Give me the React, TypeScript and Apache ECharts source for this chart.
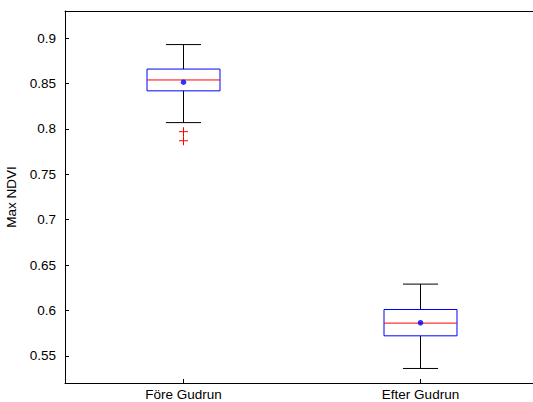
import React, { useEffect, useRef } from "react";
import * as echarts from "echarts";

const categories = ["Före Gudrun", "Efter Gudrun"];
const lowerWhisker = [0.807, 0.536];
const q1 = [0.842, 0.572];
const median = [0.854, 0.586];
const q3 = [0.866, 0.601];
const upperWhisker = [0.893, 0.629];
const means = [0.8515, 0.5864];
const outliers: [number, number][] = [
  [0, 0.797],
  [0, 0.787],
];
const yTicks = [0.55, 0.6, 0.65, 0.7, 0.75, 0.8, 0.85, 0.9];

const FONT = "'Liberation Sans', Arial, Helvetica, sans-serif";
const FS = 13.5;

export default function App() {
  const ref = useRef<HTMLDivElement>(null);
  useEffect(() => {
    document.body.style.margin = "0";
    if (!ref.current) return;
    const chart = echarts.init(ref.current, undefined, { renderer: "svg" });
    const boxData = categories.map((_, i) => [i, lowerWhisker[i], q1[i], median[i], q3[i], upperWhisker[i]]);
    chart.setOption({
      animation: false,
      backgroundColor: "#ffffff",
      grid: {
        left: 65,
        top: 11,
        width: 474,
        height: 372,
        show: false,
        outerBoundsMode: "none",
        containLabel: false,
      },
      xAxis: [
        {
          type: "category",
          data: categories,
          boundaryGap: true,
          axisLine: { show: true, lineStyle: { color: "#000", width: 1 } },
          axisTick: { show: true, inside: true, length: 4, alignWithLabel: true, lineStyle: { color: "#000" } },
          axisLabel: { color: "#000", fontSize: FS, fontFamily: FONT, margin: 4 },
          splitLine: { show: false },
        },
        {
          type: "category",
          data: categories,
          position: "top",
          boundaryGap: true,
          axisLine: { show: true, lineStyle: { color: "#000", width: 1 } },
          axisTick: { show: false },
          axisLabel: { show: false },
          splitLine: { show: false },
        },
      ],
      yAxis: {
        type: "value",
        min: 0.52,
        max: 0.93,
        name: "Max NDVI",
        nameLocation: "middle",
        nameRotate: 90,
        nameGap: 42,
        nameTextStyle: { color: "#000", fontSize: FS, fontFamily: FONT },
        axisLine: { show: true, lineStyle: { color: "#000", width: 1 } },
        axisTick: { show: true, inside: true, length: 4, customValues: yTicks, lineStyle: { color: "#000" } },
        axisLabel: {
          color: "#000",
          fontSize: FS,
          fontFamily: FONT,
          margin: 9,
          customValues: yTicks,
          formatter: (v: number) => String(Math.round(v * 100) / 100),
        },
        splitLine: { show: false },
      },
      series: [
        {
          type: "custom",
          data: boxData,
          encode: { x: 0, y: [1, 2, 3, 4, 5] },
          renderItem: (params: any, api: any) => {
            const idx = api.value(0);
            const band = api.size([1, 0])[0];
            const halfBox = band * 0.154;
            const halfCap = band * 0.074;
            const pLow = api.coord([idx, api.value(1)]);
            const pQ1 = api.coord([idx, api.value(2)]);
            const pMed = api.coord([idx, api.value(3)]);
            const pQ3 = api.coord([idx, api.value(4)]);
            const pHigh = api.coord([idx, api.value(5)]);
            const cx = pMed[0];
            const black = { stroke: "#000", lineWidth: 1 };
            return {
              type: "group",
              children: [
                { type: "line", shape: { x1: cx, y1: pQ3[1], x2: cx, y2: pHigh[1] }, style: black },
                { type: "line", shape: { x1: cx, y1: pQ1[1], x2: cx, y2: pLow[1] }, style: black },
                { type: "line", shape: { x1: cx - halfCap, y1: pHigh[1], x2: cx + halfCap, y2: pHigh[1] }, style: black },
                { type: "line", shape: { x1: cx - halfCap, y1: pLow[1], x2: cx + halfCap, y2: pLow[1] }, style: black },
                {
                  type: "rect",
                  shape: { x: cx - halfBox, y: pQ3[1], width: halfBox * 2, height: pQ1[1] - pQ3[1] },
                  style: { fill: "none", stroke: "#0000ff", lineWidth: 1 },
                },
                {
                  type: "line",
                  shape: { x1: cx - halfBox, y1: pMed[1], x2: cx + halfBox, y2: pMed[1] },
                  style: { stroke: "#ff0000", lineWidth: 1 },
                },
              ],
            };
          },
          z: 2,
        },
        {
          type: "custom",
          data: outliers,
          encode: { x: 0, y: 1 },
          renderItem: (params: any, api: any) => {
            const p = api.coord([api.value(0), api.value(1)]);
            const s = 4.5;
            const red = { stroke: "#ff0000", lineWidth: 1 };
            return {
              type: "group",
              children: [
                { type: "line", shape: { x1: p[0] - s, y1: p[1], x2: p[0] + s, y2: p[1] }, style: red },
                { type: "line", shape: { x1: p[0], y1: p[1] - s, x2: p[0], y2: p[1] + s }, style: red },
              ],
            };
          },
          z: 3,
        },
        {
          type: "scatter",
          data: categories.map((_, i) => [i, means[i]]),
          symbol: "circle",
          symbolSize: 5.5,
          itemStyle: { color: "#0000ff" },
          z: 4,
        },
      ],
    });
    return () => chart.dispose();
  }, []);
  return <div ref={ref} style={{ width: 533, height: 402 }} />;
}
